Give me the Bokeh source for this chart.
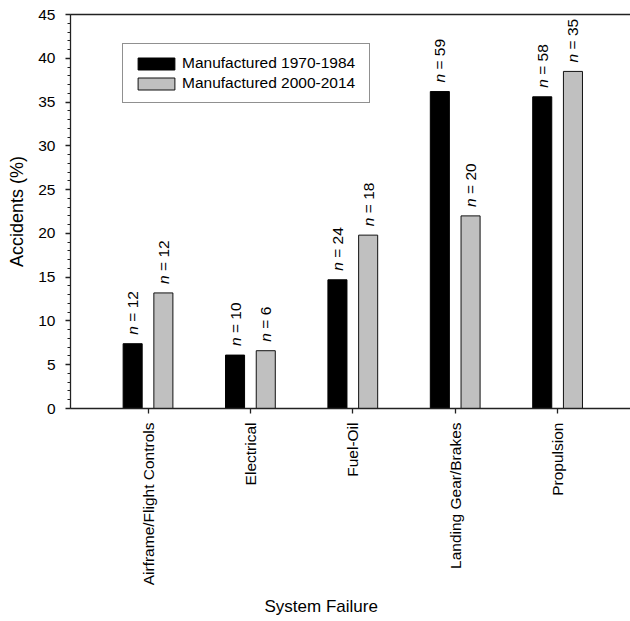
import math
from bokeh.plotting import figure
from bokeh.models import (ColumnDataSource, FixedTicker, LinearAxis, Range1d,
                          Legend, LegendItem, Title)
from bokeh.transform import dodge
from bokeh.core.properties import value
from bokeh.embed import file_html
from bokeh.resources import INLINE

# ---- data ----
categories = ["Airframe/Flight Controls", "Electrical", "Fuel-Oil",
              "Landing Gear/Brakes", "Propulsion"]
series_names = ["Manufactured 1970-1984", "Manufactured 2000-2014"]
pct_1970 = [7.4, 6.1, 14.7, 36.2, 35.6]
pct_2000 = [13.2, 6.6, 19.8, 22.0, 38.5]
n_1970 = [12, 10, 24, 59, 58]
n_2000 = [12, 6, 18, 20, 35]
y_ticks = [0, 5, 10, 15, 20, 25, 30, 35, 40, 45]
x_title = "System Failure"
y_title = "Accidents (%)"

FONT = "Liberation Sans"
GRAY = "#c0c0c0"
AX = "#222222"

idx = list(range(len(categories)))
src = ColumnDataSource(data=dict(
    x=idx, cat=categories, v1=pct_1970, v2=pct_2000,
    n=["n"] * len(idx),
    l1=["= %d" % v for v in n_1970], l2=["= %d" % v for v in n_2000],
))

p = figure(width=630, height=621,
           x_range=Range1d(-0.757, 4.712), y_range=Range1d(0, 45),
           output_backend="svg", toolbar_location=None,
           min_border_left=70, min_border_right=0, min_border_top=14,
           min_border_bottom=213)
p.outline_line_color = None
p.grid.visible = False
p.background_fill_color = "white"
p.border_fill_color = "white"

off = 0.15
bw = 0.186
r1 = p.vbar(x=dodge("x", -off, range=p.x_range), top="v1", width=bw, bottom=0,
            source=src, fill_color="black", line_color="black", line_width=1)
r2 = p.vbar(x=dodge("x", off, range=p.x_range), top="v2", width=bw, bottom=0,
            source=src, fill_color=GRAY, line_color="#111111", line_width=1)

# n labels: italic "n" followed by "= N"
for col, top, d in (("l1", "v1", -off), ("l2", "v2", off)):
    p.text(x=dodge("x", d, range=p.x_range), y=top, text="n", source=src,
           angle=math.pi / 2, y_offset=-9, text_align="left",
           text_baseline="middle", text_font=value(FONT),
           text_font_size="15.5px", text_font_style="italic", text_color="black")
    p.text(x=dodge("x", d, range=p.x_range), y=top, text=col, source=src,
           angle=math.pi / 2, y_offset=-22, text_align="left",
           text_baseline="middle", text_font=value(FONT),
           text_font_size="15.5px", text_color="black")

# axes
xa = p.xaxis[0]
xa.ticker = FixedTicker(ticks=idx)
xa.major_label_overrides = {i: c for i, c in zip(idx, categories)}
xa.major_label_orientation = math.pi / 2
xa.major_label_text_font = FONT
xa.major_label_text_font_size = "15.5px"
xa.major_label_text_color = "black"
xa.major_label_standoff = 9
xa.major_tick_out = 5
xa.major_tick_in = 0
xa.minor_tick_line_color = None
xa.axis_line_color = AX
xa.axis_line_width = 1.3
xa.major_tick_line_color = AX
xa.major_tick_line_width = 1.3

ya = p.yaxis[0]
ya.ticker = FixedTicker(ticks=y_ticks, minor_ticks=list(range(0, 46)))
ya.major_label_text_font = FONT
ya.major_label_text_font_size = "15.5px"
ya.major_label_text_color = "black"
ya.major_label_standoff = 10
ya.major_tick_out = 5
ya.major_tick_in = 0
ya.minor_tick_out = 3
ya.minor_tick_in = 0
ya.axis_line_color = AX
ya.axis_line_width = 1.3
ya.major_tick_line_color = AX
ya.major_tick_line_width = 1.3
ya.minor_tick_line_color = AX
ya.minor_tick_line_width = 1
ya.axis_label = y_title
ya.axis_label_text_font = FONT
ya.axis_label_text_font_size = "18px"
ya.axis_label_text_font_style = "normal"
ya.axis_label_text_color = "black"
ya.axis_label_standoff = 8

# top border line
top = LinearAxis(ticker=FixedTicker(ticks=[]), major_tick_out=0, major_tick_in=0,
                 major_label_text_font_size="0px", major_label_standoff=0,
                 axis_line_color=AX, axis_line_width=1.3,
                 minor_tick_line_color=None, major_tick_line_color=None)
p.add_layout(top, "above")

# x-axis title
p.add_layout(Title(text=x_title, align="left", offset=194,
                   text_font=FONT, text_font_size="17px",
                   text_font_style="normal", text_color="black", standoff=12),
             "below")

legend = Legend(items=[LegendItem(label=series_names[0], renderers=[r1]),
                       LegendItem(label=series_names[1], renderers=[r2])],
                location=(52, 305), margin=0, padding=10,
                glyph_width=46, glyph_height=15, label_height=15,
                label_width=177, label_standoff=3, spacing=2,
                label_text_font=FONT, label_text_font_size="15.5px",
                label_text_color="black",
                border_line_color=AX, border_line_width=1.3,
                background_fill_color="white", background_fill_alpha=1)
p.add_layout(legend)

open("out.html", "w").write(file_html(p, INLINE))
